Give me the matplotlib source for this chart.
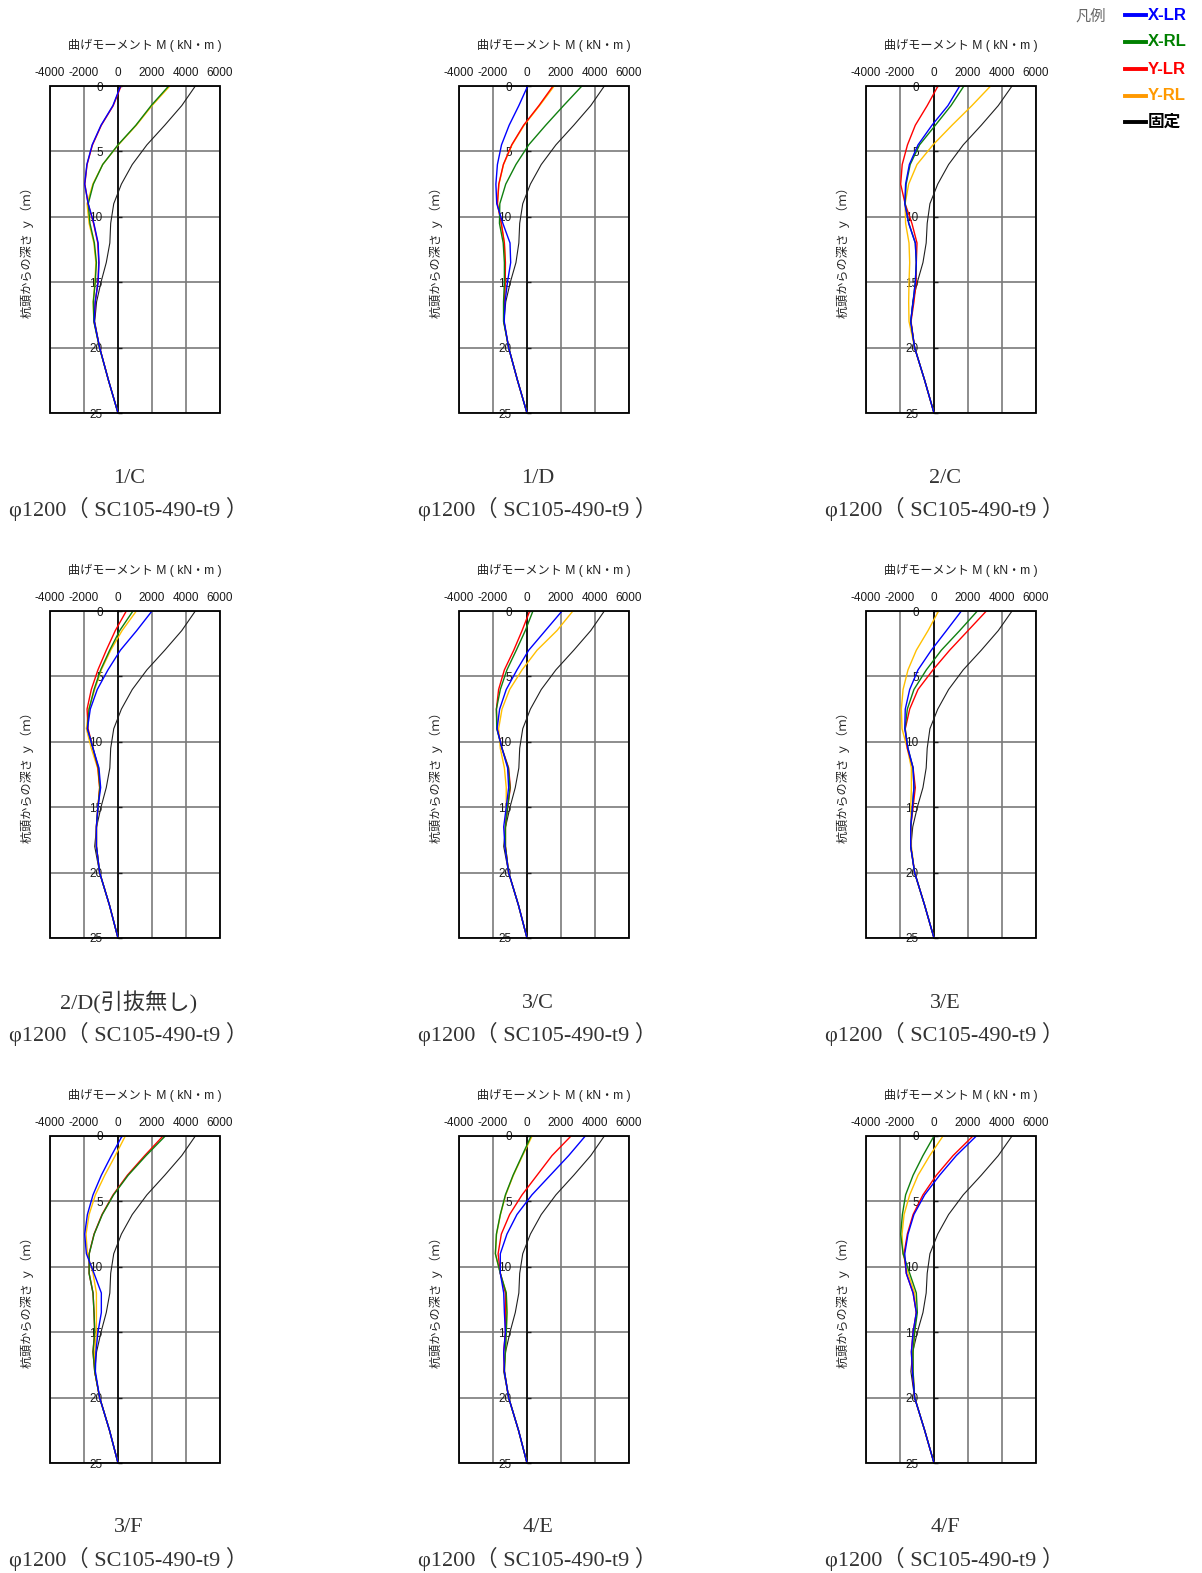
import matplotlib
matplotlib.use("Agg")
import matplotlib.pyplot as plt
from matplotlib.patches import Rectangle
from matplotlib.lines import Line2D

plt.rcParams['font.family'] = ['Liberation Sans', 'Noto Sans CJK JP', 'DejaVu Sans']
plt.rcParams['axes.unicode_minus'] = False

# profundidade (m) e eixos
DEPTH = [0, 1.5, 3, 4.5, 6, 7.5, 9, 10.5, 12, 13.5, 15, 16.5, 18, 20, 22.5, 25]
M_TICKS = [-4000, -2000, 0, 2000, 4000, 6000]
M_TICK_LABELS = ['-4000', '-2000', '0', '2000', '4000', '6000']
D_TICKS = [0, 5, 10, 15, 20, 25]

PANEL_NAMES = ['1/C', '1/D', '2/C', '2/D(引抜無し)', '3/C', '3/E', '3/F', '4/E', '4/F']
SECTION = 'φ1200（ SC105-490-t9 ）'
SERIES = ['X-LR', 'X-RL', 'Y-LR', 'Y-RL', '固定']

# 1/C
p1_xlr = [150, -300, -1000, -1520, -1830, -1960, -1750, -1420, -1170, -1120, -1170, -1340, -1400, -1080, -560, 0]
p1_xrl = [2980, 1950, 1050, 0, -900, -1450, -1750, -1650, -1390, -1270, -1340, -1450, -1420, -1090, -560, 0]
p1_ylr = [180, -280, -980, -1500, -1820, -1950, -1760, -1440, -1190, -1130, -1180, -1340, -1400, -1080, -560, 0]
p1_yrl = [3050, 2000, 1080, 20, -900, -1480, -1820, -1700, -1420, -1300, -1360, -1460, -1420, -1090, -560, 0]
p1_fix = [4550, 3750, 2750, 1700, 840, 200, -250, -430, -480, -690, -1000, -1260, -1370, -1080, -560, 0]

# 1/D
p2_xlr = [40, -480, -1050, -1500, -1740, -1830, -1780, -1420, -1000, -960, -1150, -1290, -1340, -1080, -560, 0]
p2_xrl = [3230, 2150, 1100, 100, -650, -1250, -1600, -1620, -1400, -1330, -1330, -1380, -1380, -1080, -560, 0]
p2_ylr = [1530, 700, -200, -900, -1390, -1660, -1740, -1510, -1330, -1270, -1280, -1330, -1360, -1080, -560, 0]
p2_yrl = [1600, 740, -170, -880, -1380, -1650, -1740, -1520, -1340, -1280, -1280, -1330, -1360, -1080, -560, 0]
p2_fix = [4550, 3750, 2750, 1700, 840, 200, -250, -430, -480, -650, -980, -1250, -1360, -1080, -560, 0]

# 2/C
p3_xlr = [1510, 820, -120, -940, -1450, -1670, -1720, -1490, -1100, -1040, -1100, -1230, -1370, -1140, -550, 0]
p3_xrl = [1760, 1000, 80, -850, -1400, -1640, -1700, -1480, -1100, -1040, -1100, -1230, -1370, -1140, -550, 0]
p3_ylr = [235, -400, -1100, -1560, -1870, -1960, -1700, -1300, -1000, -1040, -1050, -1180, -1350, -1140, -550, 0]
p3_yrl = [3330, 2230, 1060, -60, -1000, -1490, -1700, -1670, -1470, -1430, -1470, -1490, -1470, -1140, -550, 0]
p3_fix = [4590, 3780, 2780, 1720, 860, 220, -240, -400, -460, -650, -980, -1250, -1360, -1140, -550, 0]

# 2/D(引抜無し)
p4_xlr = [2000, 1100, 140, -590, -1220, -1630, -1800, -1470, -1120, -1020, -1180, -1270, -1270, -1080, -500, 0]
p4_xrl = [880, 100, -490, -1020, -1410, -1700, -1800, -1470, -1150, -1060, -1180, -1270, -1270, -1080, -500, 0]
p4_ylr = [490, -160, -690, -1180, -1570, -1820, -1760, -1470, -1180, -1080, -1180, -1270, -1270, -1080, -500, 0]
p4_yrl = [1080, 240, -430, -980, -1370, -1720, -1860, -1570, -1200, -1080, -1180, -1270, -1270, -1080, -500, 0]
p4_fix = [4550, 3750, 2750, 1700, 840, 200, -250, -430, -480, -690, -1000, -1260, -1370, -1080, -500, 0]

# 3/C
p5_xlr = [2060, 1080, 100, -590, -1220, -1610, -1760, -1470, -1140, -1080, -1220, -1370, -1300, -1080, -500, 0]
p5_xrl = [350, -100, -630, -1180, -1570, -1800, -1780, -1470, -1100, -1000, -1140, -1270, -1270, -1080, -500, 0]
p5_ylr = [160, -290, -780, -1330, -1670, -1800, -1760, -1470, -1080, -980, -1140, -1270, -1270, -1080, -500, 0]
p5_yrl = [2700, 1760, 590, -290, -1020, -1470, -1670, -1570, -1330, -1220, -1220, -1270, -1270, -1080, -500, 0]
p5_fix = [4550, 3750, 2750, 1700, 840, 200, -250, -430, -480, -690, -1000, -1260, -1370, -1080, -500, 0]

# 3/E
p6_xlr = [1610, 730, -160, -940, -1430, -1690, -1720, -1530, -1230, -1180, -1270, -1370, -1370, -1140, -550, 0]
p6_xrl = [2550, 1510, 430, -450, -1180, -1570, -1700, -1530, -1230, -1180, -1270, -1370, -1370, -1140, -550, 0]
p6_ylr = [3080, 2000, 920, -60, -940, -1430, -1690, -1570, -1230, -1100, -1230, -1370, -1370, -1140, -550, 0]
p6_yrl = [270, -350, -1040, -1530, -1820, -1920, -1880, -1570, -1330, -1330, -1370, -1330, -1330, -1140, -550, 0]
p6_fix = [4590, 3780, 2780, 1720, 860, 220, -240, -400, -460, -650, -980, -1250, -1360, -1140, -550, 0]

# 3/F
p7_xlr = [240, -390, -980, -1470, -1800, -1960, -1860, -1410, -980, -980, -1180, -1300, -1330, -1080, -500, 0]
p7_xrl = [2780, 1650, 600, -260, -920, -1400, -1690, -1700, -1470, -1410, -1370, -1470, -1370, -1080, -500, 0]
p7_ylr = [2650, 1570, 550, -290, -940, -1410, -1700, -1700, -1470, -1410, -1370, -1470, -1370, -1080, -500, 0]
p7_yrl = [430, -160, -780, -1330, -1700, -1880, -1800, -1470, -1270, -1270, -1270, -1370, -1370, -1080, -500, 0]
p7_fix = [4550, 3750, 2750, 1700, 840, 200, -250, -430, -480, -690, -1000, -1260, -1370, -1080, -500, 0]

# 4/E
p8_xlr = [3430, 2450, 1370, 290, -590, -1180, -1570, -1570, -1370, -1330, -1270, -1370, -1330, -1080, -500, 0]
p8_xrl = [240, -290, -820, -1270, -1570, -1800, -1860, -1570, -1220, -1180, -1220, -1270, -1330, -1080, -500, 0]
p8_ylr = [2590, 1470, 590, -290, -1020, -1510, -1700, -1570, -1270, -1270, -1270, -1370, -1330, -1080, -500, 0]
p8_yrl = [300, -260, -800, -1250, -1560, -1790, -1860, -1570, -1220, -1180, -1220, -1270, -1330, -1080, -500, 0]
p8_fix = [4550, 3750, 2750, 1700, 840, 200, -250, -430, -480, -690, -1000, -1260, -1370, -1080, -500, 0]

# 4/F
p9_xlr = [2490, 1310, 330, -550, -1180, -1530, -1720, -1630, -1230, -1040, -1230, -1330, -1270, -1140, -550, 0]
p9_xrl = [0, -650, -1230, -1670, -1860, -1960, -1820, -1430, -1040, -980, -1140, -1230, -1230, -1140, -550, 0]
p9_ylr = [2290, 1120, 140, -650, -1230, -1570, -1760, -1630, -1230, -1040, -1230, -1330, -1270, -1140, -550, 0]
p9_yrl = [530, -250, -940, -1430, -1760, -1880, -1820, -1530, -1140, -1060, -1140, -1230, -1230, -1140, -550, 0]
p9_fix = [4590, 3780, 2780, 1720, 860, 220, -240, -400, -460, -650, -980, -1250, -1360, -1140, -550, 0]

panels = [
    (p1_xlr, p1_xrl, p1_ylr, p1_yrl, p1_fix),
    (p2_xlr, p2_xrl, p2_ylr, p2_yrl, p2_fix),
    (p3_xlr, p3_xrl, p3_ylr, p3_yrl, p3_fix),
    (p4_xlr, p4_xrl, p4_ylr, p4_yrl, p4_fix),
    (p5_xlr, p5_xrl, p5_ylr, p5_yrl, p5_fix),
    (p6_xlr, p6_xrl, p6_ylr, p6_yrl, p6_fix),
    (p7_xlr, p7_xrl, p7_ylr, p7_yrl, p7_fix),
    (p8_xlr, p8_xrl, p8_ylr, p8_yrl, p8_fix),
    (p9_xlr, p9_xrl, p9_ylr, p9_yrl, p9_fix),
]

# cores das curvas (X-LR, X-RL, Y-LR, Y-RL, 固定)
line_colors = ['#0000ff', '#108010', '#ff0000', '#ffc000', '#202020']
line_widths = [1.0, 1.0, 1.0, 1.0, 0.8]
legend_colors = ['#0000ff', '#008000', '#ff0000', '#ff9900', '#000000']
draw_order = [4, 3, 2, 1, 0]

W, H = 1202, 1573
fig = plt.figure(figsize=(W / 100, H / 100), dpi=100)

col_left = [50, 459, 866]
row_top = [86, 611, 1136]
aw, ah = 170, 327

serif = ['Liberation Serif', 'Noto Sans CJK JP']

for i, curves in enumerate(panels):
    r, c = divmod(i, 3)
    l, t = col_left[c], row_top[r]
    ax = fig.add_axes([l / W, 1 - (t + ah) / H, aw / W, ah / H])

    for k in draw_order:
        ax.plot(curves[k], DEPTH, color=line_colors[k], lw=line_widths[k], zorder=3)

    ax.set_xlim(-4000, 6000)
    ax.set_ylim(25, 0)
    ax.set_xticks(M_TICKS)
    ax.set_xticklabels(M_TICK_LABELS)
    ax.xaxis.tick_top()
    ax.tick_params(axis='x', length=0, pad=5, labelsize=8.5, colors='#1a1a1a')
    ax.set_yticks(D_TICKS)
    ax.tick_params(axis='y', direction='in', length=3, width=1, pad=11,
                   labelsize=8.5, colors='#1a1a1a')
    ax.grid(True, color='#7a7a7a', lw=1.2, zorder=1)
    ax.set_axisbelow(True)

    for s in ['top', 'right', 'bottom']:
        ax.spines[s].set_visible(False)
    ax.spines['left'].set_position(('data', 0))
    ax.spines['left'].set_linewidth(1.2)
    ax.spines['left'].set_zorder(2)
    ax.add_patch(Rectangle((0, 0), 1, 1, transform=ax.transAxes, fill=False,
                           lw=1.3, edgecolor='black', clip_on=False, zorder=4))

    ax.text(0.56, 1 + 41 / ah, '曲げモーメント M ( kN・m )', transform=ax.transAxes,
            ha='center', va='center', fontsize=8.7, color='#222222')
    ax.text(-23 / aw, 0.5, '杭頭からの深さ ｙ（ｍ）', transform=ax.transAxes,
            rotation=90, ha='center', va='center', fontsize=8.7, color='#222222')

    # legenda inferior do painel
    ax.text((aw / 2 - 6) / aw, -65 / ah, PANEL_NAMES[i], transform=ax.transAxes,
            ha='center', va='center', fontsize=16, family=serif, color='#333333')
    ax.text((aw / 2 - 6) / aw, -96 / ah, SECTION, transform=ax.transAxes,
            ha='center', va='center', fontsize=16, family=serif, color='#333333')

# legenda (canto superior direito)
fig.text(1091 / W, 1 - 16 / H, '凡例', ha='center', va='center', fontsize=11,
         color='#666666', family=['Noto Sans CJK JP'])
leg_y = [15, 42, 69, 96, 122]
for k, name in enumerate(SERIES):
    y = 1 - leg_y[k] / H
    fig.add_artist(Line2D([1125 / W, 1146 / W], [y, y], color=legend_colors[k], lw=2.8))
    fig.text(1148 / W, y, name, ha='left', va='center', fontsize=12,
             fontweight='bold', color=legend_colors[k])

fig.savefig('out.png', dpi=100, facecolor='white')
